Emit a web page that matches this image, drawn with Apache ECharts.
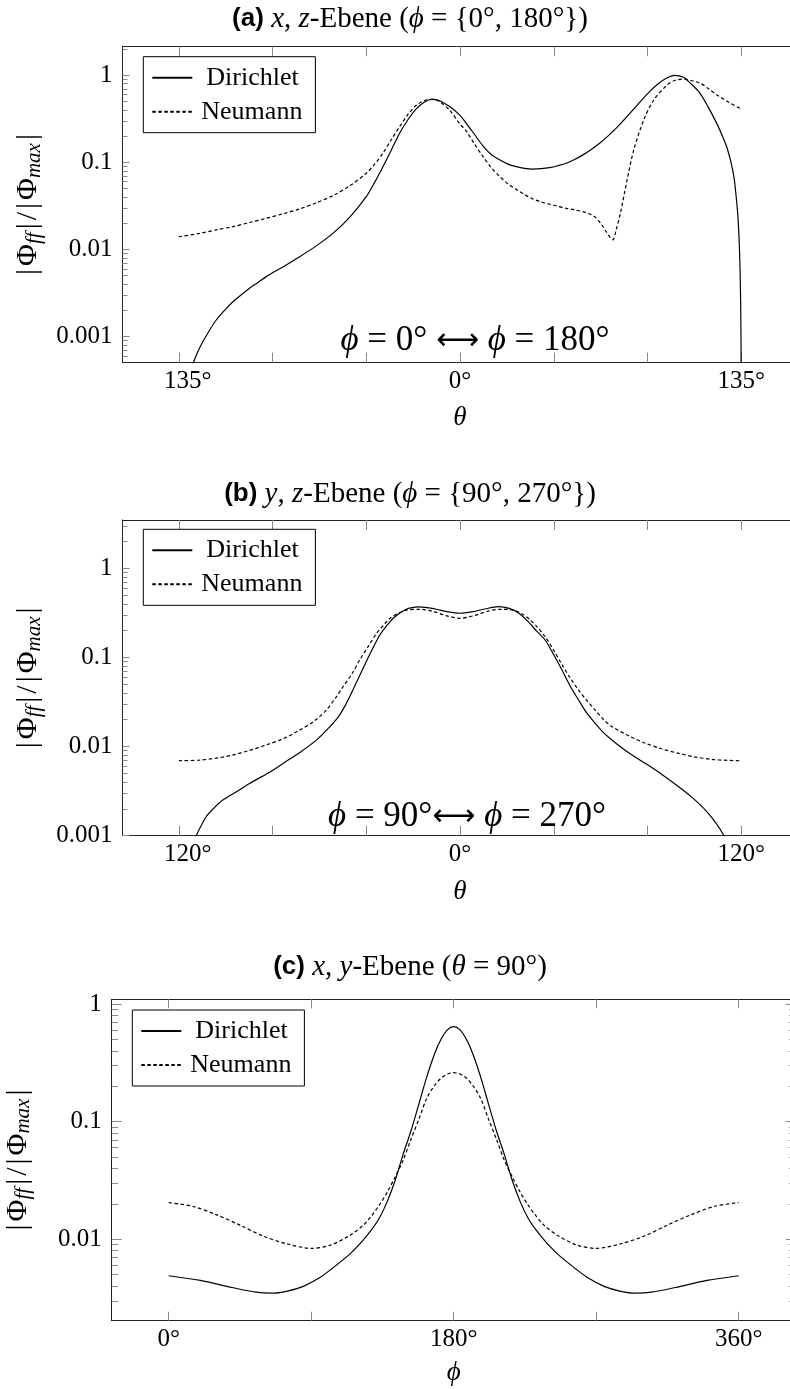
<!DOCTYPE html>
<html><head><meta charset="utf-8">
<script src="https://cdn.jsdelivr.net/npm/echarts@6/dist/echarts.min.js"></script>
<style>html,body{margin:0;padding:0;background:#fff}#c{width:790px;height:1389px}</style>
</head><body><div id="c"></div>
<script>
// ---------- DATA (|Phi_ff|/|Phi_max|) ----------
// (a) x,z-plane
const thetaA_D = [-135,-132,-130,-128,-125,-121,-117,-113,-109,-105,-101,-97,-93,-85,-77,-69,-61,-53,-45,-41,-37,-33,-29,-25,-21,-17,-13.5,-10,-5,0,3,7,11,15,19,23,27,31,35,39,43,47,51,55,59,63,67,71,75,79,83,87,91,95,99,103,107,111,115,119,123,126,128,130,131.5,132.5,133.4,134,134.4,134.7,134.9,135];
const dirA = [0.00001,0.000178,0.000331,0.000501,0.000741,0.0011,0.00155,0.002,0.00251,0.00302,0.00359,0.00417,0.00488,0.00631,0.00826,0.011,0.0153,0.0234,0.0404,0.0589,0.0893,0.138,0.216,0.309,0.412,0.495,0.53,0.513,0.437,0.347,0.281,0.209,0.155,0.123,0.107,0.0955,0.0893,0.0855,0.0839,0.0847,0.0871,0.0916,0.0977,0.108,0.122,0.141,0.166,0.2,0.247,0.313,0.4,0.513,0.649,0.794,0.925,1.0,0.955,0.794,0.631,0.437,0.288,0.2,0.151,0.102,0.0676,0.0417,0.024,0.0126,0.00631,0.00251,0.000794,0.00001];
const thetaA_N = [-135,-125,-117,-109,-101,-93,-85,-77,-69,-61,-53,-45,-41,-37,-33,-29,-25,-21,-17,-13.5,-10,-5,0,3,7,11,15,19,23,27,31,35,39,43,47,51,55,59,62,65,67.5,70,72,73.4,75,77,80.2,83.4,88.2,93,99.4,103,107.4,111,115.4,119,123.4,129,135];
const neuA = [0.014,0.0153,0.0168,0.0183,0.0204,0.0228,0.0257,0.0292,0.0343,0.0415,0.0537,0.075,0.0955,0.127,0.182,0.257,0.355,0.452,0.513,0.53,0.501,0.398,0.275,0.229,0.162,0.117,0.0871,0.0692,0.0569,0.049,0.0427,0.038,0.0351,0.0331,0.0313,0.0297,0.0285,0.0272,0.0257,0.0234,0.02,0.0162,0.0138,0.0129,0.017,0.0261,0.0628,0.139,0.307,0.52,0.774,0.871,0.908,0.871,0.809,0.708,0.594,0.49,0.41];
// (b) y,z-plane
const thetaB_D = [-120,-117,-115,-112.6,-108.3,-105,-101.2,-95,-89.8,-82,-75.5,-68,-61.3,-56,-52,-49,-46.5,-44,-41.5,-39,-36.5,-34,-31,-28.5,-25,-22,-18,-14,-10,-5,0,5,10,16.4,21,25,29.2,32.5,36.3,40,43.5,47,50.6,54,57.7,61,64.9,72,79.1,86,93.3,99,104.7,109,112.6,115,117,120];
const dirB = [0.0002,0.000447,0.000708,0.001,0.00163,0.00204,0.00251,0.00316,0.00386,0.00501,0.00647,0.00871,0.0118,0.0162,0.0214,0.0288,0.0389,0.0537,0.0741,0.102,0.138,0.182,0.232,0.275,0.324,0.355,0.37,0.363,0.347,0.324,0.313,0.324,0.347,0.371,0.355,0.316,0.251,0.2,0.157,0.107,0.0723,0.0479,0.0333,0.024,0.0182,0.0145,0.0118,0.00851,0.00647,0.0049,0.00354,0.00269,0.00194,0.00141,0.001,0.000708,0.000447,0.0002];
const thetaB_N = [-120,-111.2,-104,-97,-90,-82.8,-75,-68.4,-62,-57,-53,-49.9,-46,-42.8,-39,-35.6,-32,-29.9,-26,-22.8,-17.1,-12,-6,0,6,12,17,23,27,30,33,36.3,40,43.5,47,50.6,54,57.7,61,64.9,72,79.1,86,93.3,100,107.5,114,120];
const neuB = [0.00693,0.00705,0.00741,0.00804,0.00902,0.0104,0.0124,0.0153,0.0195,0.0257,0.0355,0.0469,0.0661,0.0935,0.135,0.186,0.24,0.275,0.316,0.34,0.347,0.331,0.295,0.275,0.295,0.331,0.347,0.339,0.302,0.263,0.219,0.171,0.12,0.0832,0.0589,0.0431,0.0331,0.0257,0.0204,0.0167,0.0132,0.0109,0.00944,0.00839,0.00767,0.00718,0.007,0.00693];
// (c) x,y-plane
const phiC_D = [0,20,40,55,65,75,85,95,103,114,122,128,133,138,143,148,153,158,163,168,172,176,180,184,188,192,197,202,207,212,217,222,227,232,238,246,257,265,275,285,295,305,320,340,360];
const dirC = [0.0049,0.00447,0.00389,0.00355,0.00348,0.00363,0.00398,0.00468,0.00562,0.00741,0.00955,0.012,0.0151,0.0209,0.0316,0.0525,0.0832,0.141,0.24,0.38,0.501,0.603,0.643,0.603,0.501,0.38,0.24,0.141,0.0832,0.0525,0.0316,0.0209,0.0151,0.012,0.00955,0.00741,0.00562,0.00468,0.00398,0.00363,0.00348,0.00355,0.00389,0.00447,0.0049];
const phiC_N = [0,15,30,45,60,75,90,102,114,123,128,133,138,143,148,153,158,163,168,172,176,180,184,188,192,197,202,207,212,217,222,227,232,237,246,258,270,285,300,315,330,345,360];
const neuC = [0.0205,0.0191,0.0162,0.0132,0.0106,0.00912,0.00837,0.00891,0.0107,0.0132,0.0158,0.0195,0.0251,0.0339,0.0468,0.0708,0.105,0.158,0.204,0.234,0.254,0.261,0.254,0.234,0.204,0.158,0.105,0.0708,0.0468,0.0339,0.0251,0.0195,0.0158,0.0132,0.0107,0.00891,0.00837,0.00912,0.0106,0.0132,0.0162,0.0191,0.0205];

// ---------- TICKS / LABELS ----------
const xTicksA = [-135,-90,-45,0,45,90,135];
const xLabelValsA = [-135,0,135];
const xLabelsA = ['135°','0°','135°'];
const xTicksB = [-120,-80,-40,0,40,80,120];
const xLabelValsB = [-120,0,120];
const xLabelsB = ['120°','0°','120°'];
const xTicksC = [0,90,180,270,360];
const xLabelValsC = [0,180,360];
const xLabelsC = ['0°','180°','360°'];
const yDecades = [-3,-2,-1,0];
const yLabels = ['0.001','0.01','0.1','1'];
const seriesNames = ['Dirichlet','Neumann'];

const SERIF = "'Liberation Serif','DejaVu Serif',serif";
const SANS = "'Liberation Sans','DejaVu Sans',sans-serif";

function pts(xs, ys){ return xs.map((x,i)=>[x, Math.log10(ys[i])]); }
function majors(lo,hi){ return yDecades.filter(d=>d>=lo-1e-9 && d<=hi+1e-9); }
function minors(lo,hi){ const o=[]; for(let d=-5; d<=1; d++) for(let k=2;k<=9;k++){ const v=d+Math.log10(k); if(v>lo+1e-6 && v<hi-1e-6) o.push(v);} return o; }

const panels = [
  {grid:{left:122.5, top:46.3, width:675, height:316.4}, xr:[-162,162], yr:[-3.3,0.333],
   xt:xTicksA, xlv:xLabelValsA, xl:xLabelsA, shiftFirst:true, xname:'θ', xgap:42, xtl:10, ymaj:7, ymin:5,
   d:pts(thetaA_D,dirA), n:pts(thetaA_N,neuA), legend:{left:143.3, top:56.7}},
  {grid:{left:122.5, top:520, width:675, height:315.7}, xr:[-144,144], yr:[-3,0.542],
   xt:xTicksB, xlv:xLabelValsB, xl:xLabelsB, shiftFirst:true, xname:'θ', xgap:43, xtl:10, ymaj:7, ymin:5,
   d:pts(thetaB_D,dirB), n:pts(thetaB_N,neuB), legend:{left:143.3, top:529.3}},
  {grid:{left:111.7, top:999.3, width:684, height:321.4}, xr:[-36,396], yr:[-2.692,0.04],
   xt:xTicksC, xlv:xLabelValsC, xl:xLabelsC, shiftFirst:false, xname:'ϕ', xgap:39, xtl:9, ymaj:10, ymin:6.5,
   d:pts(phiC_D,dirC), n:pts(phiC_N,neuC), legend:{left:132.3, top:1010}}
];

const FRAME = '#222', TICK = '#8a8a8a';
const grids=[], xAxes=[], yAxes=[], series=[], legends=[];
panels.forEach((p,pi)=>{
  grids.push(Object.assign({outerBoundsMode:'none', containLabel:false}, p.grid));
  const xBase = {type:'value', gridIndex:pi, min:p.xr[0], max:p.xr[1], splitLine:{show:false},
    axisLine:{show:true, onZero:false, lineStyle:{color:FRAME, width:1}}};
  xAxes.push(Object.assign({}, xBase, {position:'bottom',
    axisTick:{show:true, inside:true, length:p.xtl, customValues:p.xt, lineStyle:{color:TICK}},
    axisLabel:{show:true, customValues:p.xlv, margin:6, color:'#000', fontFamily:SERIF, fontSize:25,
      formatter:(v)=>{ const i=p.xlv.indexOf(v); const s=p.xl[i]; return (p.shiftFirst && i===0) ? '{s|'+s+'}' : s; },
      rich:{s:{padding:[0,0,0,18], color:'#000', fontFamily:SERIF, fontSize:25}}},
    name:p.xname, nameLocation:'middle', nameGap:p.xgap,
    nameTextStyle:{fontFamily:SERIF, fontStyle:'italic', fontSize:27, color:'#000'}}));
  xAxes.push(Object.assign({}, xBase, {position:'top',
    axisTick:{show:true, inside:true, length:p.xtl, customValues:p.xt, lineStyle:{color:TICK}},
    axisLabel:{show:false}}));
  const yBase = {type:'value', gridIndex:pi, min:p.yr[0], max:p.yr[1], splitLine:{show:false}};
  const mj = majors(p.yr[0],p.yr[1]), mn = minors(p.yr[0],p.yr[1]);
  yAxes.push(Object.assign({}, yBase, {position:'left',
    axisLine:{show:true, onZero:false, lineStyle:{color:FRAME, width:1}},
    axisTick:{show:true, inside:true, length:p.ymaj, customValues:mj, lineStyle:{color:TICK}},
    axisLabel:{show:true, customValues:mj, margin:10, color:'#000', fontFamily:SERIF, fontSize:25,
      formatter:(v)=>yLabels[yDecades.indexOf(Math.round(v))]},
    name:'{v||}Φ{s|ff}{v||}/{v||}Φ{s|max}{v||}', nameLocation:'middle', nameRotate:90, nameGap:78,
    nameTextStyle:{fontFamily:SERIF, fontSize:30, color:'#000', lineHeight:32,
      rich:{s:{fontFamily:SERIF, fontStyle:'italic', fontSize:21, color:'#000', lineHeight:18, verticalAlign:'bottom'},
            v:{fontFamily:SERIF, fontSize:30, color:'#000', lineHeight:32, padding:[0,3,0,3]}}}}));
  yAxes.push(Object.assign({}, yBase, {position:'left', axisLine:{show:false, onZero:false},
    axisTick:{show:true, inside:true, length:p.ymin, customValues:mn, lineStyle:{color:TICK}}, axisLabel:{show:false}}));
  yAxes.push(Object.assign({}, yBase, {position:'right',
    axisLine:{show:true, onZero:false, lineStyle:{color:FRAME, width:1}},
    axisTick:{show:true, inside:true, length:p.ymaj, customValues:mj, lineStyle:{color:TICK}}, axisLabel:{show:false}}));
  yAxes.push(Object.assign({}, yBase, {position:'right', axisLine:{show:false, onZero:false},
    axisTick:{show:true, inside:true, length:p.ymin, customValues:mn, lineStyle:{color:TICK}}, axisLabel:{show:false}}));
  const common = {type:'line', xAxisIndex:2*pi, yAxisIndex:4*pi, symbol:'none', showSymbol:false, smooth:0.3,
    clip:true, animation:false, silent:true};
  series.push(Object.assign({}, common, {name:seriesNames[0], data:p.d, lineStyle:{color:'#000', width:1.2, type:'solid'}, itemStyle:{color:'#000'}}));
  series.push(Object.assign({}, common, {name:seriesNames[1], data:p.n, lineStyle:{color:'#000', width:1.2, type:[3.5,2.5]}, itemStyle:{color:'#000'}}));
  legends.push({data:seriesNames, orient:'vertical', left:p.legend.left, top:p.legend.top, selectedMode:false,
    itemWidth:40, itemHeight:14, itemGap:8, padding:[8,13,8,8], borderColor:'#000', borderWidth:1, borderRadius:0,
    backgroundColor:'#fff', itemStyle:{opacity:0, color:'transparent', borderColor:'transparent', borderWidth:0},
    formatter:(nm)=> nm==='Dirichlet' ? '{d|'+nm+'}' : '{n|'+nm+'}',
    textStyle:{fontFamily:SERIF, fontSize:26, color:'#000',
      rich:{d:{padding:[0,0,0,9], fontFamily:SERIF, fontSize:26, color:'#000'}, n:{padding:[0,0,0,4], fontFamily:SERIF, fontSize:26, color:'#000'}}}});
});

function title(txt, y){
  return {type:'text', x:410, y:y, z:10, style:{text:txt, x:0, y:0, align:'center', verticalAlign:'middle',
    fontFamily:SERIF, fontSize:29, fill:'#000',
    rich:{b:{fontFamily:SANS, fontWeight:'bold', fontSize:26, fill:'#000'}, i:{fontFamily:SERIF, fontStyle:'italic', fontSize:29, fill:'#000'}}}};
}
function note(txt, x, y){
  return {type:'text', x:x, y:y, z:10, style:{text:txt, align:'center', verticalAlign:'middle',
    fontFamily:SERIF, fontSize:35, fill:'#000',
    rich:{i:{fontFamily:SERIF, fontStyle:'italic', fontSize:35, fill:'#000'}, a:{fontFamily:"'DejaVu Sans'", fontSize:30, fill:'#000'}}}};
}

const chart = echarts.init(document.getElementById('c'), null, {renderer:'canvas'});
chart.setOption({
  animation:false, backgroundColor:'#fff',
  grid:grids, xAxis:xAxes, yAxis:yAxes, series:series, legend:legends,
  graphic:[
    title('{b|(a)} {i|x}, {i|z}-Ebene ({i|ϕ} = {0°, 180°})', 19),
    title('{b|(b)} {i|y}, {i|z}-Ebene ({i|ϕ} = {90°, 270°})', 494),
    title('{b|(c)} {i|x}, {i|y}-Ebene ({i|θ} = 90°)', 967),
    note('{i|ϕ} = 0° {a|⟷} {i|ϕ} = 180°', 475, 341),
    note('{i|ϕ} = 90°{a|⟷} {i|ϕ} = 270°', 467, 817)
  ]
});
</script></body></html>
